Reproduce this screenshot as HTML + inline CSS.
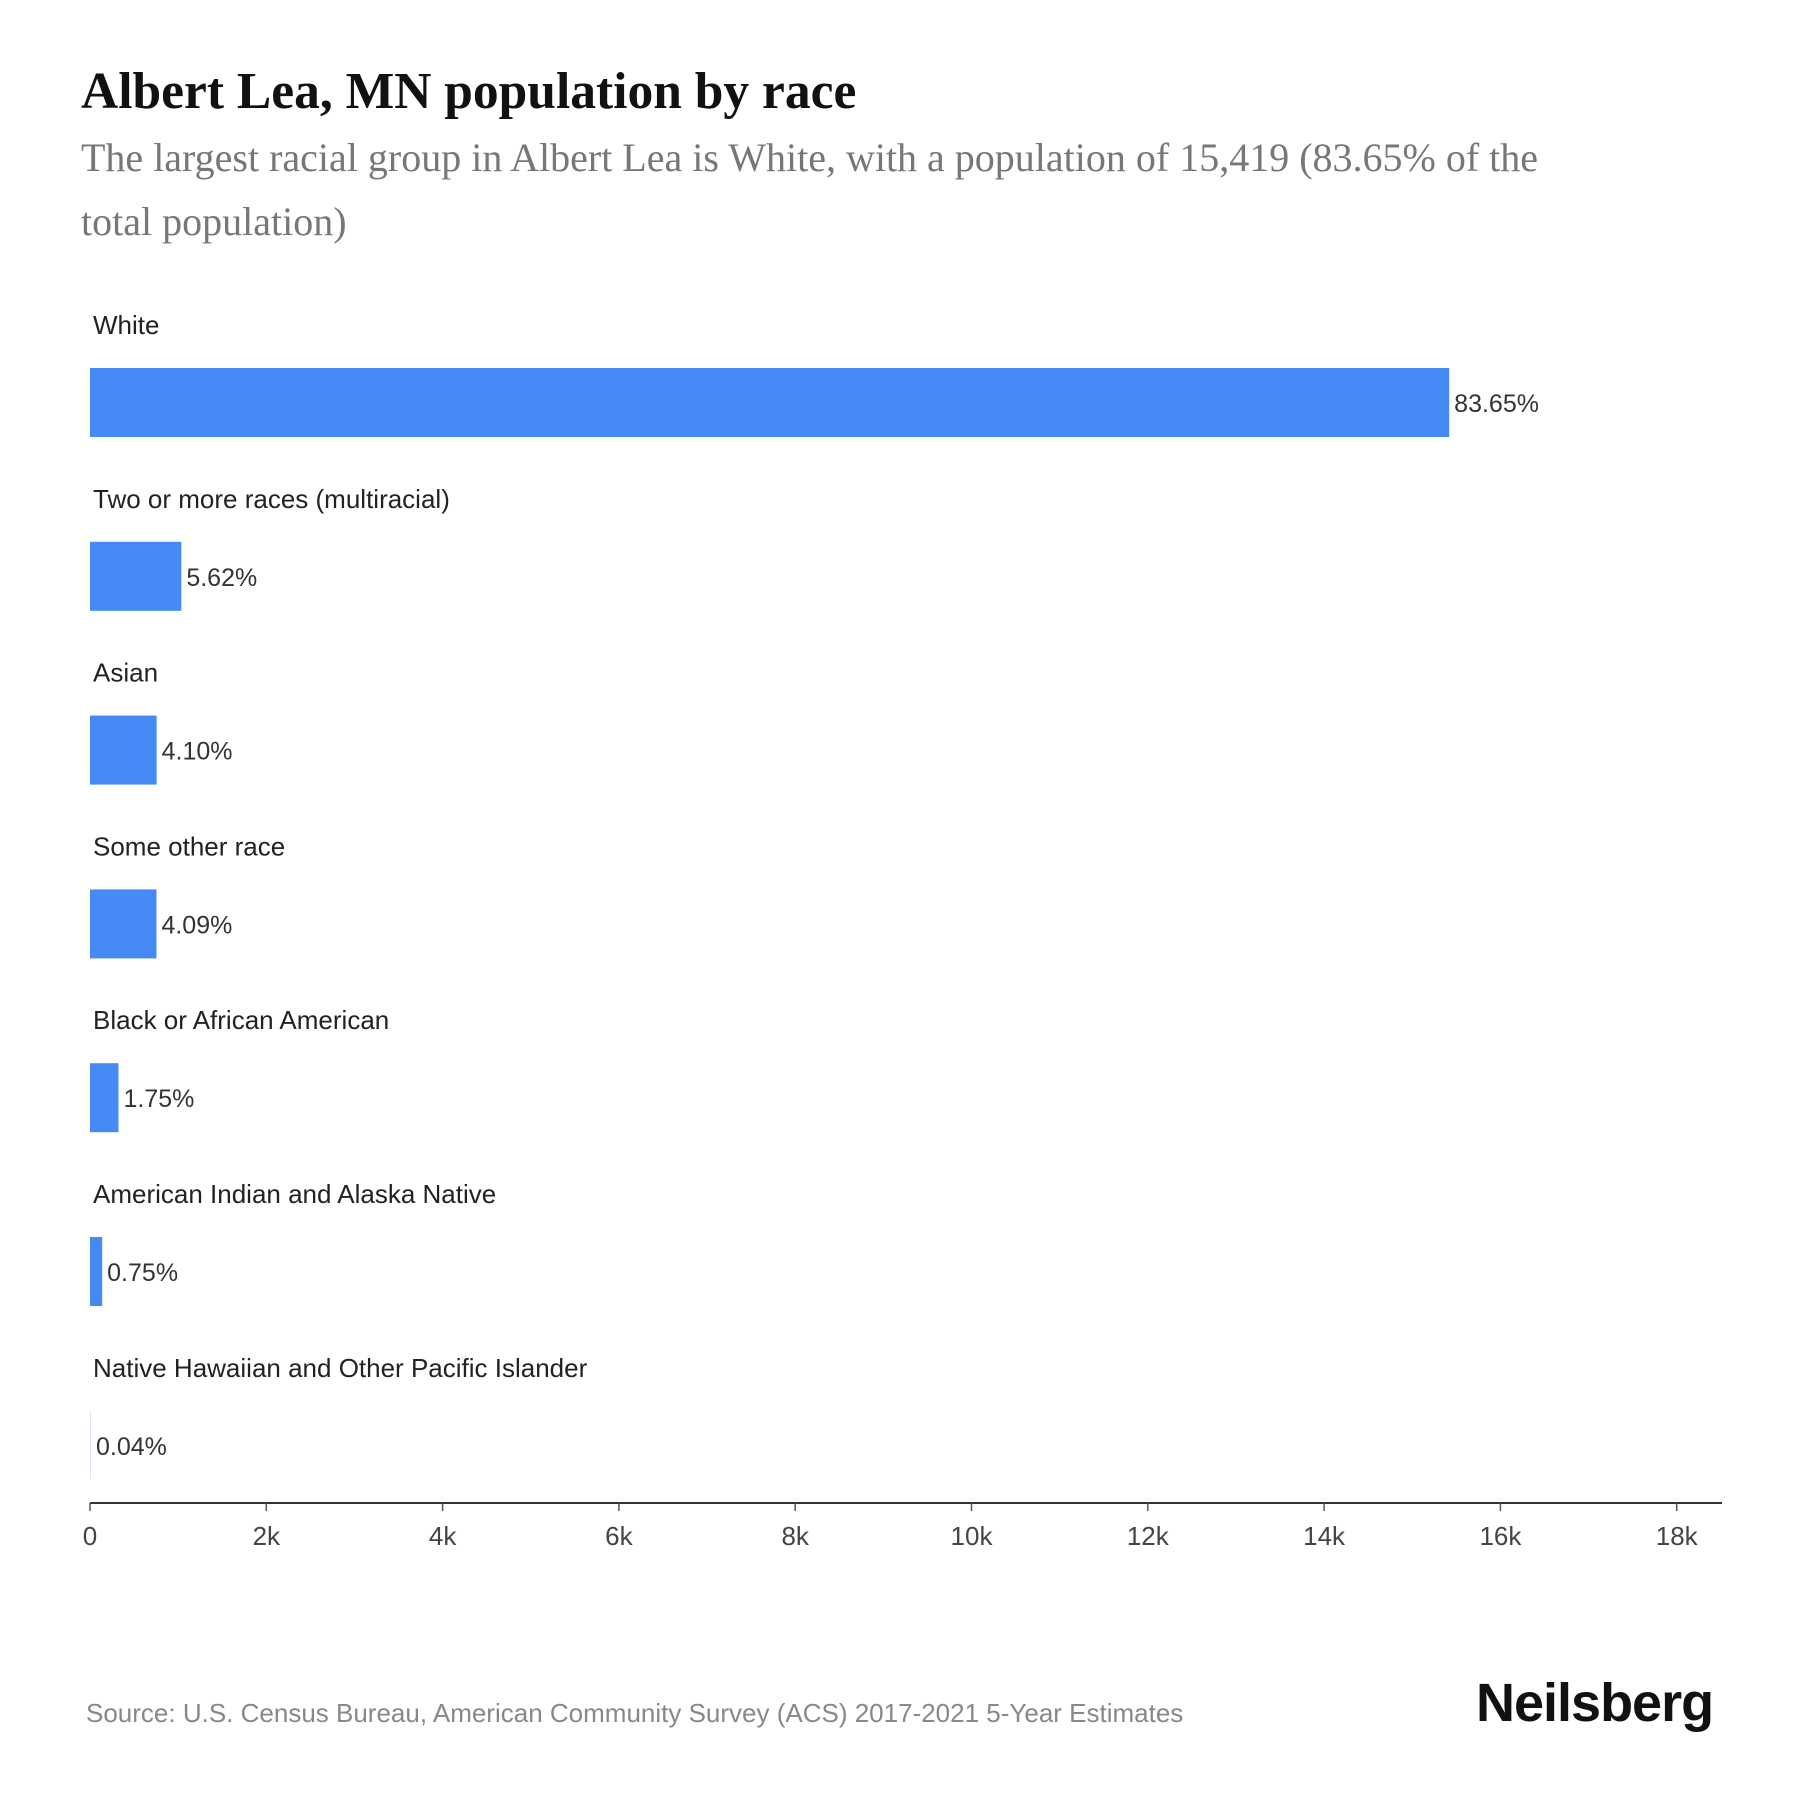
<!DOCTYPE html>
<html><head><meta charset="utf-8"><style>
html,body{margin:0;padding:0;background:#fff;}
#root{position:relative;width:1800px;height:1800px;overflow:hidden;font-family:"Liberation Sans",sans-serif;}
.title{position:absolute;left:81px;top:62px;font-family:"Liberation Serif",serif;font-weight:bold;font-size:51.5px;color:#111;white-space:nowrap;}
.sub{position:absolute;left:81px;top:126px;width:1510px;font-family:"Liberation Serif",serif;font-size:40px;line-height:64px;color:#777;}
.src{position:absolute;left:86px;top:1698px;font-size:26px;color:#888;white-space:nowrap;}
.logo{position:absolute;left:1476px;top:1672px;font-size:54px;font-weight:bold;color:#111;letter-spacing:-1px;}
</style></head><body>
<div id="root">
<div class="title">Albert Lea, MN population by race</div>
<div class="sub">The largest racial group in Albert Lea is White, with a population of 15,419 (83.65% of the total population)</div>
<svg id="chart" width="1800" height="1800" style="position:absolute;left:0;top:0"></svg>
<div class="src">Source: U.S. Census Bureau, American Community Survey (ACS) 2017-2021 5-Year Estimates</div>
<div class="logo">Neilsberg</div>
</div>
<script>
const categories=["White","Two or more races (multiracial)","Asian","Some other race","Black or African American","American Indian and Alaska Native","Native Hawaiian and Other Pacific Islander"];
const values=[15419,1036,756,754,323,138,7];
const pctLabels=["83.65%","5.62%","4.10%","4.09%","1.75%","0.75%","0.04%"];
const ticks=[0,2000,4000,6000,8000,10000,12000,14000,16000,18000];
const tickLabels=["0","2k","4k","6k","8k","10k","12k","14k","16k","18k"];
const NS="http://www.w3.org/2000/svg";
const svg=document.getElementById('chart');
const x0=90,pxPer=176.3/2000;
function xs(v){return x0+v*pxPer;}
function rowTop(i){return 368+i*173.8;}
function mk(t,a){const e=document.createElementNS(NS,t);for(const k in a)e.setAttribute(k,a[k]);svg.appendChild(e);return e;}
categories.forEach((c,i)=>{
  const y=rowTop(i);
  const lab=mk('text',{x:93,y:y-34,'font-size':26,fill:'#222','font-family':'Liberation Sans, sans-serif'});
  lab.textContent=c;
  
  
  const w=Math.max(xs(values[i])-x0,1);
  const r=mk('rect',{x:x0,y:y,width:w,height:69,fill:values[i]<20?'#dde6f5':'#4589f4'});
  
  
  const vl=mk('text',{x:x0+w+5,y:y+44,'font-size':25,fill:'#333','font-family':'Liberation Sans, sans-serif'});
  vl.textContent=pctLabels[i];
  
  
});
const ax=mk('line',{x1:x0,x2:1722,y1:1503,y2:1503,stroke:'#333','stroke-width':2});


ticks.forEach((t,i)=>{
  const tk=mk('line',{x1:xs(t),x2:xs(t),y1:1503,y2:1511,stroke:'#555','stroke-width':1.5});
  
  
  const tl=mk('text',{x:xs(t),y:1545,'font-size':26,fill:'#444','text-anchor':'middle','font-family':'Liberation Sans, sans-serif'});
  tl.textContent=tickLabels[i];
  
  
});
</script>
</body></html>
